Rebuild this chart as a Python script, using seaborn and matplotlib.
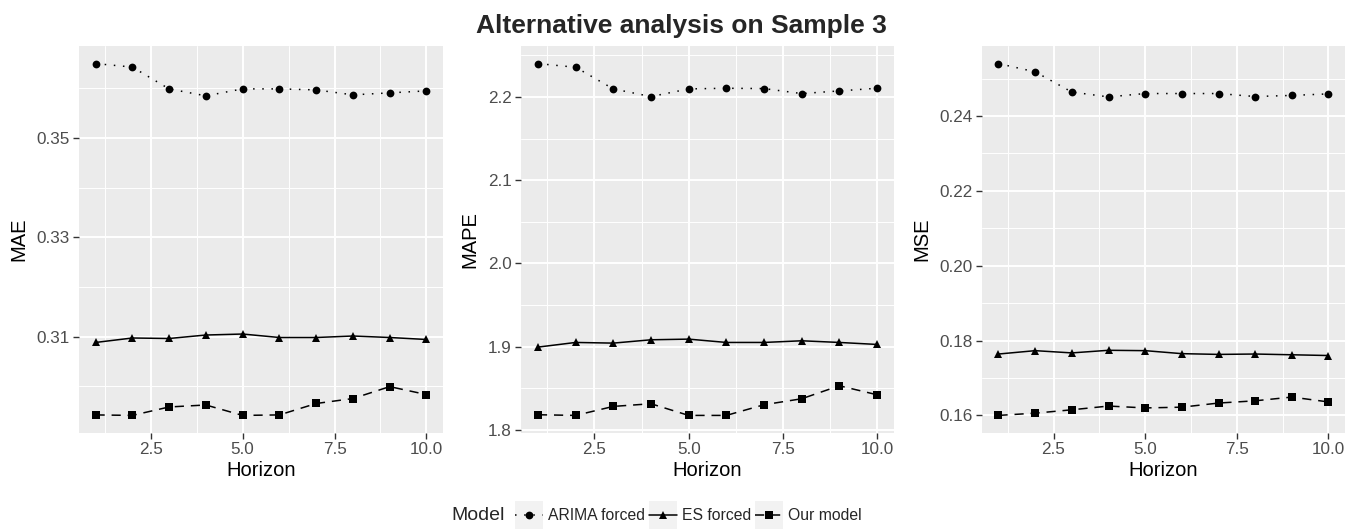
import numpy as np
import pandas as pd
import matplotlib
matplotlib.use("Agg")
import matplotlib.pyplot as plt
import seaborn as sns
from matplotlib.patches import Rectangle
from matplotlib.lines import Line2D
from matplotlib.legend_handler import HandlerTuple, HandlerPatch
from matplotlib.ticker import FixedLocator, FixedFormatter

# ---- data -------------------------------------------------------------
horizon = list(range(1, 11))
models = ["ARIMA forced", "ES forced", "Our model"]

mae_arima = [0.3650, 0.3643, 0.3599, 0.3585, 0.3599, 0.3599, 0.3597, 0.3587, 0.3591, 0.3595]
mae_es    = [0.3088, 0.3097, 0.3096, 0.3103, 0.3105, 0.3098, 0.3098, 0.3101, 0.3098, 0.3094]
mae_ours  = [0.2942, 0.2941, 0.2958, 0.2962, 0.2941, 0.2942, 0.2965, 0.2975, 0.2999, 0.2983]

mape_arima = [2.2400, 2.2356, 2.2096, 2.2004, 2.2096, 2.2104, 2.2100, 2.2040, 2.2072, 2.2104]
mape_es    = [1.8996, 1.9052, 1.9044, 1.9084, 1.9092, 1.9052, 1.9052, 1.9072, 1.9052, 1.9028]
mape_ours  = [1.8184, 1.8176, 1.8284, 1.8316, 1.8176, 1.8176, 1.8304, 1.8376, 1.8532, 1.8424]

mse_arima = [0.2540, 0.2518, 0.2464, 0.2451, 0.2460, 0.2460, 0.2460, 0.2452, 0.2455, 0.2459]
mse_es    = [0.1764, 0.1773, 0.1767, 0.1774, 0.1773, 0.1765, 0.1763, 0.1764, 0.1762, 0.1760]
mse_ours  = [0.1600, 0.1606, 0.1615, 0.1625, 0.1620, 0.1622, 0.1633, 0.1639, 0.1649, 0.1636]

x_ticks = [2.5, 5.0, 7.5, 10.0]
x_tick_labels = ["2.5", "5.0", "7.5", "10.0"]
mae_ticks = [0.31, 0.33, 0.35]
mae_tick_labels = ["0.31", "0.33", "0.35"]
mape_ticks = [1.8, 1.9, 2.0, 2.1, 2.2]
mape_tick_labels = ["1.8", "1.9", "2.0", "2.1", "2.2"]
mse_ticks = [0.16, 0.18, 0.20, 0.22, 0.24]
mse_tick_labels = ["0.16", "0.18", "0.20", "0.22", "0.24"]

# ---- styling ----------------------------------------------------------
sns.set_theme(style="darkgrid")
plt.rcParams["font.family"] = ["Liberation Sans", "DejaVu Sans"]

PANEL_BG = "#EBEBEB"
TICK_TEXT = "#4D4D4D"
TICK_LINE = "#333333"
LW = 1.1
MS = 5.6

markers = {"ARIMA forced": "o", "ES forced": "^", "Our model": "s"}
marker_sizes = {"ARIMA forced": MS, "ES forced": MS + 0.8, "Our model": MS}
dashes = {"ARIMA forced": (1, 5), "ES forced": "", "Our model": (6, 4.5)}

fig = plt.figure(figsize=(13.59, 5.29), dpi=100)
W, H = 1359, 529


def frac(x0, x1, y0, y1):
    return [x0 / W, 1 - y1 / H, (x1 - x0) / W, (y1 - y0) / H]


panels = [
    ("MAE", [mae_arima, mae_es, mae_ours], mae_ticks, mae_tick_labels, frac(79, 443, 46, 433)),
    ("MAPE", [mape_arima, mape_es, mape_ours], mape_ticks, mape_tick_labels, frac(521, 894, 46, 433)),
    ("MSE", [mse_arima, mse_es, mse_ours], mse_ticks, mse_tick_labels, frac(982, 1345, 46, 433)),
]

for name, series, yt, ytl, rect in panels:
    ax = fig.add_axes(rect)
    df = pd.DataFrame({
        "Horizon": horizon * 3,
        name: [v for s in series for v in s],
        "Model": [m for m in models for _ in horizon],
    })
    sns.lineplot(data=df, x="Horizon", y=name, style="Model", markers=markers,
                 dashes=dashes, color="black", lw=LW, markersize=MS,
                 markeredgewidth=0, legend=False, ax=ax)
    for ln, m in zip(ax.get_lines(), models):
        ln.set_markersize(marker_sizes[m])

    allv = df[name].to_numpy()
    lo, hi = allv.min(), allv.max()
    pad = 0.05 * (hi - lo)
    ax.set_ylim(lo - pad, hi + pad)
    ax.set_xlim(1 - 0.45, 10 + 0.45)

    ax.set_facecolor(PANEL_BG)
    for sp in ax.spines.values():
        sp.set_visible(False)

    ax.xaxis.set_major_locator(FixedLocator(x_ticks))
    ax.xaxis.set_major_formatter(FixedFormatter(x_tick_labels))
    ax.xaxis.set_minor_locator(FixedLocator([1.25, 3.75, 6.25, 8.75]))
    ax.yaxis.set_major_locator(FixedLocator(yt))
    ax.yaxis.set_major_formatter(FixedFormatter(ytl))
    step = yt[1] - yt[0]
    minor = [yt[0] - step / 2 + i * step for i in range(len(yt) + 1)]
    ax.yaxis.set_minor_locator(FixedLocator(minor))

    ax.grid(True, which="major", color="white", lw=1.4)
    ax.grid(True, which="minor", color="white", lw=0.7)
    ax.set_axisbelow(True)
    ax.tick_params(which="major", axis="both", length=4, width=1.0, color=TICK_LINE,
                   labelcolor=TICK_TEXT, labelsize=12.3, pad=2.5,
                   bottom=True, left=True, direction="out")
    ax.tick_params(which="minor", length=0)

    ax.set_xlabel("Horizon", fontsize=14.5, color="black", labelpad=3)
    ax.set_ylabel(name, fontsize=14.5, color="black", labelpad=6)

fig.text(681 / W, 1 - 33 / H, "Alternative analysis on Sample 3", fontsize=19,
         fontweight="bold", ha="center", va="baseline")


# ---- legend -----------------------------------------------------------
def square_key(legend, orig_handle, xdescent, ydescent, width, height, fontsize):
    # grey key square centred on the legend line
    yc = (height - ydescent) / 2
    return Rectangle((-xdescent, yc - width / 2), width, width)


handles = []
for m in models:
    key = Rectangle((0, 0), 1, 1, facecolor="#F2F2F2", edgecolor="none")
    ln = Line2D([], [], color="black", lw=LW, marker=markers[m],
                markersize=marker_sizes[m], markeredgewidth=0)
    if dashes[m]:
        ln.set_dashes(dashes[m])
    handles.append((key, ln))

fig.text(505 / W, 1 - 516 / H, "Model", fontsize=14, ha="right", va="center")
fig.legend(handles, models, loc="center left", bbox_to_anchor=(515 / W, 1 - 516 / H),
           ncol=3, frameon=False, fontsize=11.3, handlelength=1.78,
           handletextpad=0.32, columnspacing=0.25, borderpad=0, borderaxespad=0,
           handler_map={tuple: HandlerTuple(ndivide=1, pad=0),
                        Rectangle: HandlerPatch(patch_func=square_key)})

fig.savefig("out.png", dpi=100, facecolor="white")
